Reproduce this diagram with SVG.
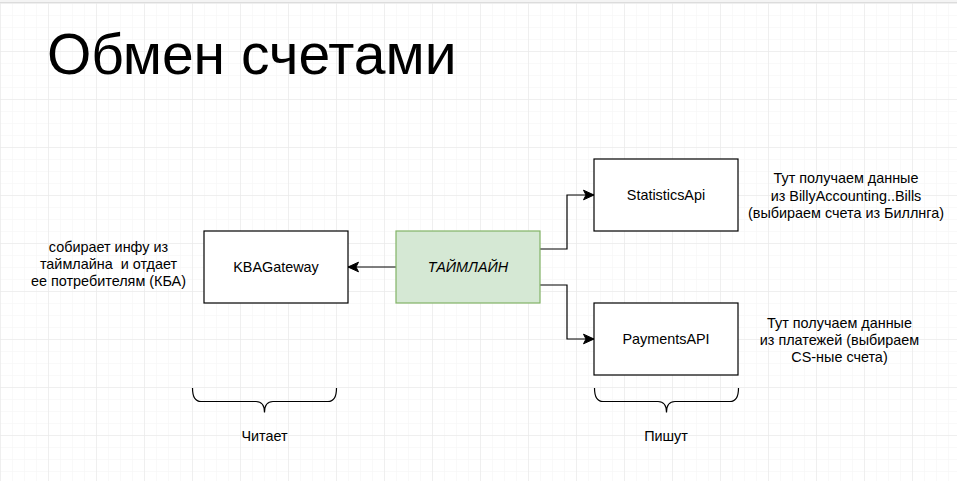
<svg xmlns="http://www.w3.org/2000/svg" width="957" height="481" viewBox="0 0 957 481">
<defs>
<pattern id="minor" x="0" y="3" width="12" height="12" patternUnits="userSpaceOnUse">
<path d="M0,0 H12 M0,0 V12" fill="none" stroke="#f3f3f3" stroke-width="1"/>
</pattern>
<pattern id="major" x="0" y="3" width="48" height="48" patternUnits="userSpaceOnUse">
<path d="M0,0 H48 M0,0 V48" fill="none" stroke="#e6e6e6" stroke-width="1"/>
</pattern>
<marker id="arr" markerUnits="userSpaceOnUse" markerWidth="14" markerHeight="12" viewBox="-12 -6 14 12" refX="0" refY="0" orient="auto">
<path d="M0,0 L-10.5,-4.8 L-8,0 L-10.5,4.8 Z" fill="#000" stroke="#000" stroke-width="1"/>
</marker>
</defs>
<style>
.t{font-family:"Liberation Sans",Arial,sans-serif;font-size:14.4px;fill:#000;text-anchor:middle}
.box{fill:#fff;stroke:#000;stroke-width:1.2}
.conn{fill:none;stroke:#000;stroke-width:1.2}
</style>
<rect width="957" height="481" fill="#fff"/>
<rect x="0" y="3" width="957" height="478" fill="url(#minor)"/>
<rect x="0" y="3" width="957" height="478" fill="url(#major)"/>
<rect x="0" y="0" width="957" height="3" fill="#f4f4f4"/>
<line x1="0" y1="2.5" x2="957" y2="2.5" stroke="#dcdcdc" stroke-width="1"/>

<text x="47" y="74" font-family="Liberation Sans,Arial,sans-serif" font-size="57" fill="#000">Обмен счетами</text>

<g id="connectors">
<path class="conn" d="M396,267 H348" marker-end="url(#arr)"/>
<path class="conn" d="M540,249 H567 V195 H594" marker-end="url(#arr)"/>
<path class="conn" d="M540,285 H567 V339 H594" marker-end="url(#arr)"/>
</g>

<g id="kbagateway">
<rect class="box" x="204" y="231" width="144" height="72"/>
<text class="t" x="276" y="272">KBAGateway</text>
</g>
<g id="timeline">
<rect x="396" y="231" width="144" height="72" fill="#d5e8d4" stroke="#82b366" stroke-width="1.2"/>
<text class="t" x="468" y="272" font-style="italic">ТАЙМЛАЙН</text>
</g>
<g id="statisticsapi">
<rect class="box" x="594" y="159" width="144" height="72"/>
<text class="t" x="666" y="200">StatisticsApi</text>
</g>
<g id="paymentsapi">
<rect class="box" x="594" y="303" width="144" height="72"/>
<text class="t" x="666" y="344">PaymentsAPI</text>
</g>

<g id="note-kba">
<text class="t" x="108.5" y="252">собирает инфу из</text>
<text class="t" x="108.5" y="269" xml:space="preserve">таймлайна  и отдает</text>
<text class="t" x="108.5" y="286">ее потребителям (КБА)</text>
</g>
<g id="note-stat">
<text class="t" x="846" y="183">Тут получаем данные</text>
<text class="t" x="846" y="200.5">из BillyAccounting..Bills</text>
<text class="t" x="846" y="218">(выбираем счета из Биллнга)</text>
</g>
<g id="note-pay">
<text class="t" x="839.5" y="327.5">Тут получаем данные</text>
<text class="t" x="839.5" y="345">из платежей (выбираем</text>
<text class="t" x="839.5" y="362">CS-ные счета)</text>
</g>

<g id="brace-read">
<path class="conn" d="M192.5,388 Q192.5,401.5 201,401.5 L256,401.5 Q264.5,401.5 264.5,412.5 Q264.5,401.5 273,401.5 L328,401.5 Q336.5,401.5 336.5,388"/>
<text class="t" x="264.5" y="441">Читает</text>
</g>
<g id="brace-write">
<path class="conn" d="M594.5,388 Q594.5,401.5 603,401.5 L658,401.5 Q666.5,401.5 666.5,412.5 Q666.5,401.5 675,401.5 L730,401.5 Q738.5,401.5 738.5,388"/>
<text class="t" x="666" y="441">Пишут</text>
</g>
</svg>
